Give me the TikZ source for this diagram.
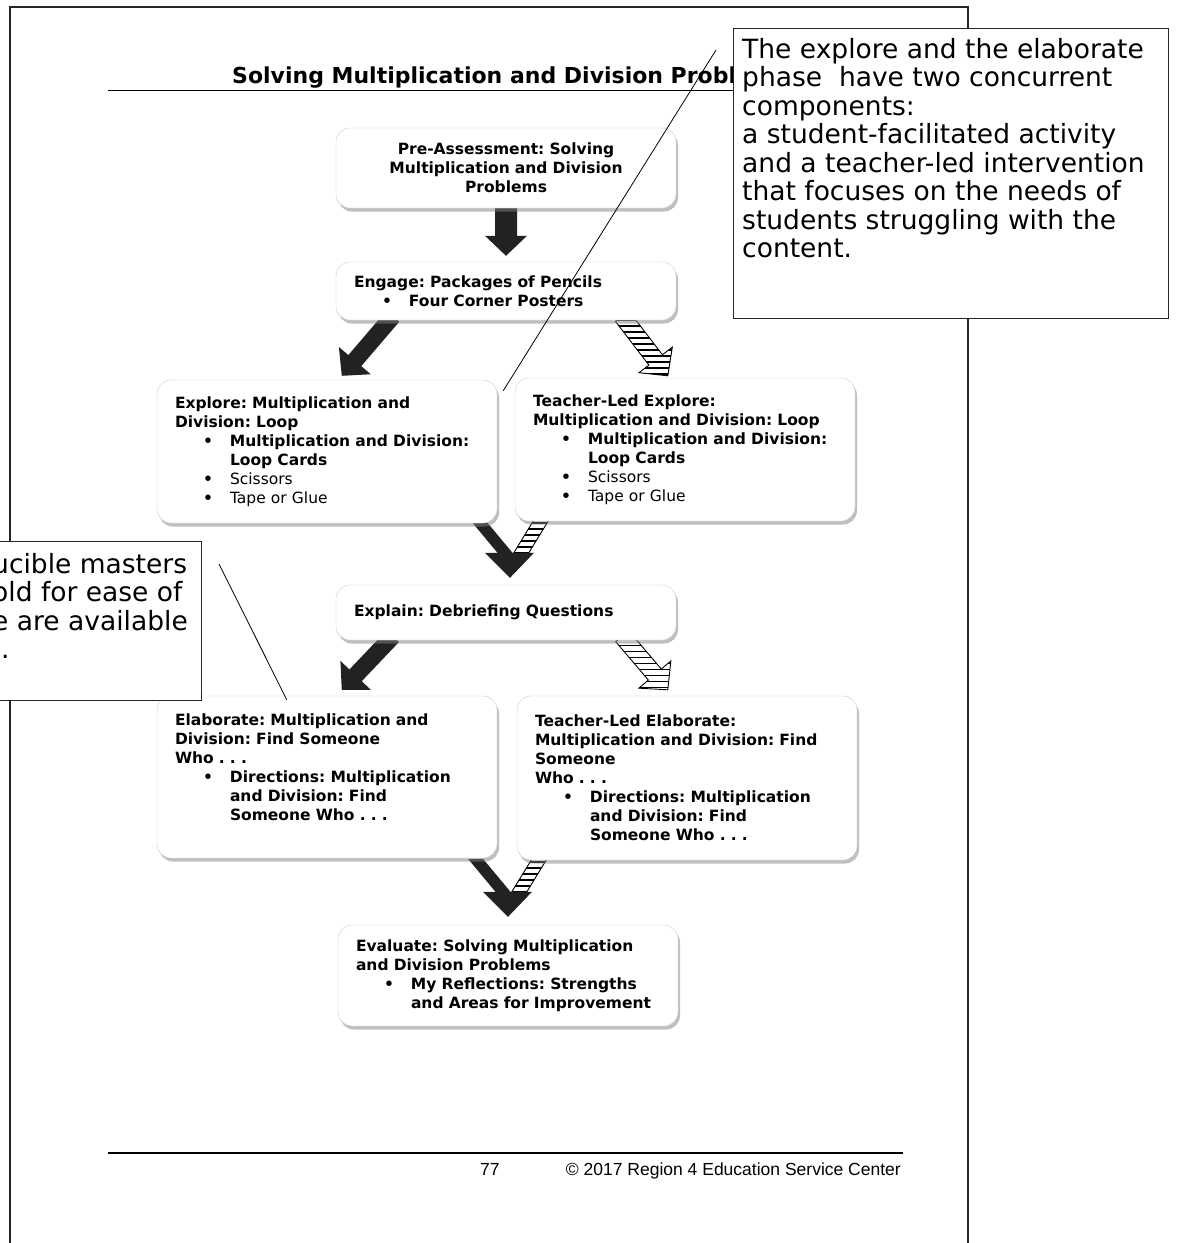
\documentclass[tikz,border=0pt]{standalone}
\usepackage{fontspec}
\setmainfont{DejaVu Sans}
\newfontfamily\footfont{Liberation Sans}
\usetikzlibrary{calc,shadows}
\definecolor{arrowdark}{HTML}{222222}
\pgfdeclarelayer{background}
\pgfsetlayers{background,main}
\frenchspacing

\newcommand{\bul}{\hspace*{28pt}\makebox[27pt][l]{\textbullet}}
\newcommand{\ind}{\hspace*{55pt}}
% block arrow: style, start, tip, half width of the shaft
\newcommand{\blockarrow}[4]{%
  \coordinate (hb) at ($(#3)!20pt!(#2)$);
  \path[#1] ($(#2)!#4!90:(#3)$) -- ($(hb)!#4!90:(#3)$) -- ($(hb)!21pt!90:(#3)$) -- (#3)
    -- ($(hb)!21pt!-90:(#3)$) -- ($(hb)!#4!-90:(#3)$) -- ($(#2)!#4!-90:(#3)$) -- cycle;}
% two shafts joining into one head, tip at #1
\newcommand{\mergearrow}[1]{%
  \begin{scope}[shift={(#1)}]
    \path[hatcharrow] (24,-58) -- (39,-58) -- (17,-22) -- (2,-22) -- cycle;
    \path[darkarrow] (-40,-58) -- (-25,-58) -- (5,-22) -- (-10,-22) -- cycle;
    \path[darkarrow] (-25,-25) -- (24,-25) -- (0,0) -- cycle;
  \end{scope}}

\begin{document}
\begin{tikzpicture}[x=1pt,y=-1pt,
    phase/.style={draw=gray!40,fill=white,rounded corners=14pt,
      drop shadow={shadow xshift=2pt,shadow yshift=-3.5pt,opacity=.5},
      minimum width=340pt,text width=304pt,inner xsep=18pt,align=left,
      font=\bfseries\fontsize{15.5}{19}\selectfont},
    darkarrow/.style={fill=arrowdark},
    hatcharrow/.style={fill=white,draw=black,line width=.9pt,
      path picture={\foreach \k in {3,9,...,93}
        \draw[line width=1.4pt] ([yshift=-\k pt]path picture bounding box.north west)
          -- ([yshift=-\k pt]path picture bounding box.north east);}},
    note/.style={draw=black!85,line width=1.3pt,fill=white,inner sep=0pt},
    notetext/.style={inner sep=0pt,align=left,font=\fontsize{26.5}{28.5}\selectfont},
    leader/.style={line width=.8pt}]
  \useasboundingbox (0,0) rectangle (1178,1243);
  \begin{pgfonlayer}{background}
    \fill[white] (0,0) rectangle (1178,1243);
  \end{pgfonlayer}

  % page
  \draw[line width=1.5pt,black!85] (10,1243) -- (10,7) -- (968,7) -- (968,1243);
  \node[anchor=base west,inner sep=0pt,font=\bfseries\fontsize{22}{26}\selectfont]
    (title) at (232,83) {Solving Multiplication and Division Problems};
  \draw[line width=1pt] (108,90) -- (903,90);
  \draw[line width=1.5pt] (108,1153) -- (903,1153);
  \node[anchor=base west,inner sep=0pt,font=\footfont\fontsize{17.5}{20}\selectfont]
    (pagenum) at (480,1175) {77};
  \node[anchor=base east,inner sep=0pt,font=\footfont\fontsize{17.5}{20}\selectfont]
    (copy) at (901,1175) {© 2017 Region 4 Education Service Center};

  \begin{scope}[every node/.style={phase}]
    \node[align=center,minimum height=80pt] (pre) at (506,168)
      {Pre-Assessment: Solving\\Multiplication and Division\\Problems};
    \node[minimum height=58pt] (engage) at (506,291)
      {Engage: Packages of Pencils\\\bul Four Corner Posters};
    \node[minimum height=143pt] (explore) at (327,451.5)
      {Explore: Multiplication and\\Division: Loop\\\bul Multiplication and Division:\\\ind Loop Cards\\
       \bul{\mdseries Scissors}\\\bul{\mdseries Tape or Glue}};
    \node[minimum height=143pt] (texplore) at (685,449.5)
      {Teacher-Led Explore:\\Multiplication and Division: Loop\\\bul Multiplication and Division:\\\ind Loop Cards\\
       \bul{\mdseries Scissors}\\\bul{\mdseries Tape or Glue}};
    \node[minimum height=55pt] (explain) at (506,612.5)
      {Explain: Debriefing Questions};
    \node[minimum height=162pt] (elab) at (327,777)
      {Elaborate: Multiplication and\\Division: Find Someone\\Who . . .\\\bul Directions: Multiplication\\
       \ind and Division: Find\\\ind Someone Who . . .\\\mbox{}};
    \node[minimum height=164pt] (telab) at (687,778)
      {Teacher-Led Elaborate:\\Multiplication and Division: Find\\Someone\\Who . . .\\\bul Directions: Multiplication\\
       \ind and Division: Find\\\ind Someone Who . . .};
    \node[minimum height=101pt] (evaluate) at (508,975.5)
      {Evaluate: Solving Multiplication\\and Division Problems\\\bul My Reflections: Strengths\\
       \ind and Areas for Improvement};
  \end{scope}

  % arrows
  \coordinate (t0) at ([yshift=6pt]engage.north);
  \coordinate (s1) at ([xshift=57pt,yshift=4pt]engage.south west);
  \coordinate (t1) at ([xshift=185pt,yshift=4pt]explore.north west);
  \coordinate (s2) at ([xshift=-54pt,yshift=4pt]engage.south east);
  \coordinate (t2) at ([xshift=153pt,yshift=2pt]texplore.north west);
  \coordinate (s3) at ([xshift=57pt,yshift=4pt]explain.south west);
  \coordinate (t3) at ([xshift=185pt,yshift=6pt]elab.north west);
  \coordinate (s4) at ([xshift=-54pt,yshift=4pt]explain.south east);
  \coordinate (t4) at ([xshift=151pt,yshift=6pt]telab.north west);
  \coordinate (m1) at ([xshift=4pt,yshift=7pt]explain.north);
  \coordinate (m2) at ([yshift=8pt]evaluate.north);
  \begin{pgfonlayer}{background}
    \blockarrow{darkarrow}{pre.south}{t0}{11pt}
    \blockarrow{darkarrow}{s1}{t1}{8.5pt}
    \blockarrow{hatcharrow}{s2}{t2}{8.5pt}
    \blockarrow{darkarrow}{s3}{t3}{8.5pt}
    \blockarrow{hatcharrow}{s4}{t4}{8.5pt}
    \mergearrow{m1}
    \mergearrow{m2}
  \end{pgfonlayer}

  % callouts
  \coordinate (lead1) at (716,50);
  \coordinate (lt1) at ([xshift=6pt,yshift=-11pt]explore.north east);
  \draw[leader] (lead1) -- (lt1);
  \node[note,minimum width=435pt,minimum height=290pt,anchor=north west] (note1) at (733,28) {};
  \node[notetext,anchor=north west] (note1t) at (742,38)
    {The explore and the elaborate\\phase\ \ have two concurrent\\components:\\a student-facilitated activity\\
     and a teacher-led intervention\\that focuses on the needs of\\students struggling with the\\content.};

  \coordinate (lead2) at (219,564);
  \coordinate (lt2) at ([xshift=130pt,yshift=-4pt]elab.north west);
  \draw[leader] (lead2) -- (lt2);
  \begin{scope}
    \clip (0,0) rectangle (1178,1243);
    \node[note,minimum width=460pt,minimum height=159pt,anchor=north east] (note2) at (202,541) {};
    \node[notetext,anchor=north west] (note2t) at (-8,553)
      {ucible masters\\old for ease of\\e are available\\\hspace*{9pt}.};
  \end{scope}
\end{tikzpicture}
\end{document}
